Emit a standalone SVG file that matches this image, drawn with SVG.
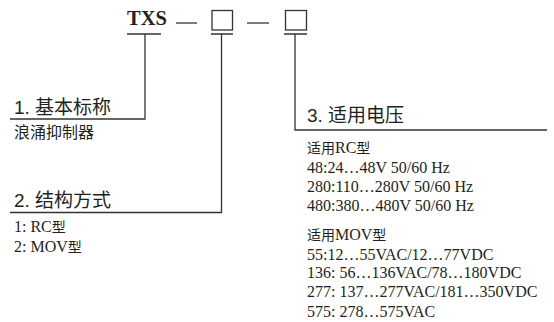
<svg xmlns="http://www.w3.org/2000/svg" width="554" height="322" viewBox="0 0 554 322">
<style>
.ln{stroke:#333;stroke-width:1.3;fill:none}
.bx{stroke:#333;stroke-width:1.3;fill:#fff}
.hd{font-family:"Liberation Sans","Noto Sans CJK SC",sans-serif;font-size:19px;fill:#231f20}
.sub{font-family:"Liberation Sans","Noto Sans CJK SC",sans-serif;font-size:16px;fill:#231f20}
.tx{font-family:"Liberation Serif","Noto Sans CJK SC",serif;font-size:16px;fill:#231f20}
.cj{font-family:"Noto Sans CJK SC",sans-serif;font-size:14px}
.code{font-family:"Liberation Serif",serif;font-size:20.5px;font-weight:bold;fill:#231f20}
</style>
<rect width="554" height="322" fill="#fff"/>
<g id="code">
<text class="code" x="127" y="25">TXS</text>
<line class="ln" x1="176" y1="23" x2="197" y2="23" stroke-width="1.6"/>
<rect class="bx" x="212" y="10.5" width="20.5" height="19.5"/>
<line class="ln" x1="247" y1="23" x2="269" y2="23" stroke-width="1.6"/>
<rect class="bx" x="285.5" y="10.5" width="21" height="19.5"/>
</g>
<g id="connectors">
<path class="ln" d="M127 34H161M145 34V119H10"/>
<path class="ln" d="M211 34H233M221.5 34V212.5H10"/>
<path class="ln" d="M284 34H307M295 34V130H547"/>
</g>
<g id="node1">
<text class="hd" x="14" y="114">1. 基本标称</text>
<text class="sub" x="14" y="138">浪涌抑制器</text>
</g>
<g id="node2">
<text class="hd" x="14" y="207">2. 结构方式</text>
<text class="tx" x="14" y="232">1: RC<tspan class="cj">型</tspan></text>
<text class="tx" x="14" y="252">2: MOV<tspan class="cj">型</tspan></text>
</g>
<g id="node3">
<text class="hd" x="307" y="122">3. 适用电压</text>
<text class="tx" x="307" y="153"><tspan class="cj">适用</tspan>RC<tspan class="cj">型</tspan></text>
<text class="tx" x="307" y="173">48:24…48V 50/60 Hz</text>
<text class="tx" x="307" y="192">280:110…280V 50/60 Hz</text>
<text class="tx" x="307" y="211">480:380…480V 50/60 Hz</text>
<text class="tx" x="307" y="240"><tspan class="cj">适用</tspan>MOV<tspan class="cj">型</tspan></text>
<text class="tx" x="307" y="260">55:12…55VAC/12…77VDC</text>
<text class="tx" x="307" y="278">136: 56…136VAC/78…180VDC</text>
<text class="tx" x="307" y="297">277: 137…277VAC/181…350VDC</text>
<text class="tx" x="307" y="317">575: 278…575VAC</text>
</g>
</svg>
